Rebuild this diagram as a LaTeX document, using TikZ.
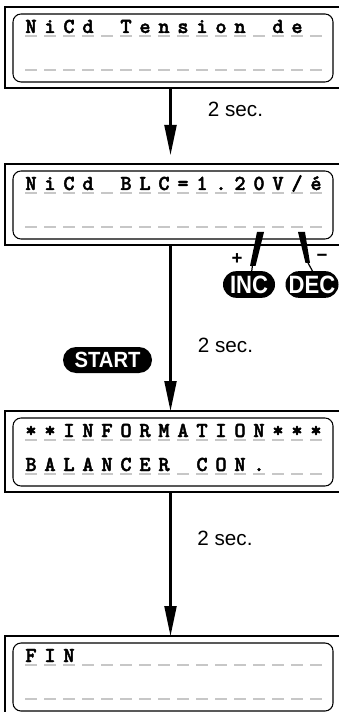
\documentclass[tikz,border=0pt]{standalone}
\usepackage{fontspec}
\setmainfont{Liberation Sans}
\newfontfamily\lcdfont[FakeBold=2]{lmmonolt10-bold.otf}
\usetikzlibrary{arrows.meta}
\definecolor{dashgray}{gray}{0.78}
\newcommand\lcdslash{/}
\newcommand\lcdrow[3]{%
  \foreach \ch [count=\i from 0] in {#3} {
    \draw[ulmark] ({25+19*\i},{#2+3}) -- ++(12,0);
    \node[lcdchar] (#1-\i) at ({31+19*\i},#2) {\ch};
  }}
\begin{document}
\begin{tikzpicture}[x=0.75pt,y=-0.75pt,
  frame/.style={line width=1pt},
  lcd/.style={draw,line width=0.8pt,rounded corners=6pt,minimum width=240pt,minimum height=51pt,inner sep=0},
  ulmark/.style={dashgray,line width=1.1pt},
  lcdchar/.style={anchor=base,inner sep=0,font={\lcdfont\fontsize{16pt}{16pt}\selectfont}},
  flow/.style={line width=1.6pt,-{Triangle[length=22.5pt,width=9pt]}},
  secl/.style={inner sep=0,font={\fontsize{15.5pt}{15.5pt}\selectfont}},
  pill/.style={fill=black,text=white,inner sep=0,minimum height=20pt,rounded corners=10pt,font={\bfseries\fontsize{18.8pt}{18.8pt}\selectfont}},
  sign/.style={inner sep=0,font={\bfseries\fontsize{14pt}{14pt}\selectfont}}]
\useasboundingbox (0,0) rectangle (339,712);
% outer frames
\foreach \t/\b in {7/88,164/245,411/492}
  \draw[frame] (339,\t) -- (5,\t) -- (5,\b) -- (339,\b);
\draw[frame] (339,636) -- (5,636) -- (5,712);
% displays
\node[lcd] (d1) at (173,48) {};
\node[lcd] (d2) at (173,205) {};
\node[lcd] (d3) at (173,452) {};
\node[lcd] (d4) at (173,677) {};
% rows
\lcdrow{a}{33}{N,i,C,d,{},T,e,n,s,i,o,n,{},d,e,{}}
\lcdrow{b}{67}{{},{},{},{},{},{},{},{},{},{},{},{},{},{},{},{}}
\lcdrow{c}{190}{N,i,C,d,{},B,L,C,=,1,.,2,0,V,\lcdslash,é}
\lcdrow{e}{224}{{},{},{},{},{},{},{},{},{},{},{},{},{},{},{},{}}
\lcdrow{f}{437}{*,*,I,N,F,O,R,M,A,T,I,O,N,*,*,*}
\lcdrow{g}{471}{B,A,L,A,N,C,E,R,{},C,O,N,.,{},{},{}}
\lcdrow{h}{662}{F,I,N,{},{},{},{},{},{},{},{},{},{},{},{},{}}
\lcdrow{k}{696}{{},{},{},{},{},{},{},{},{},{},{},{},{},{},{},{}}
% arrow coordinates
\coordinate (f1b) at (170.5,88);
\coordinate (f2e) at (170.5,155);
\coordinate (f2b) at (170.5,245);
\coordinate (f3t) at (170.5,411);
\coordinate (f3b) at (170.5,492);
\coordinate (f4t) at (170.5,636);
\draw[flow] (f1b) -- (f2e);
\draw[flow] (f2b) -- (f3t);
\draw[flow] (f3b) -- (f4t);
% labels
\node[secl] (t1) at (235.5,109) {2 sec.};
\node[secl] (t2) at (225.5,345) {2 sec.};
\node[secl] (t3) at (225,538) {2 sec.};
% buttons
\node[pill,minimum width=66.75pt,rounded corners=9.75pt,minimum height=19.5pt,font={\bfseries\fontsize{16.5pt}{16.5pt}\selectfont}] (start) at (107.5,360) {\scalebox{0.92}[1]{START}};
\node[pill,minimum width=39pt] (inc) at (249,284.5) {\scalebox{0.88}[1]{INC}};
\node[pill,minimum width=39.75pt] (dec) at (312,284.5) {\scalebox{0.88}[1]{DEC}};
% tabs
\fill (257,232) -- (264,232) -- (255.5,266) -- (250,266) -- cycle;
\draw[line width=0.9pt] (252.5,265) -- (251.5,273);
\fill (298,232) -- (305,232) -- (310,263) -- (305.5,263) -- cycle;
\draw[line width=0.9pt] (307.5,262) -- (313,272);
\node[sign] (plus) at (237,259) {+};
\node[sign] (minus) at (322,258) {−};
\end{tikzpicture}
\end{document}
